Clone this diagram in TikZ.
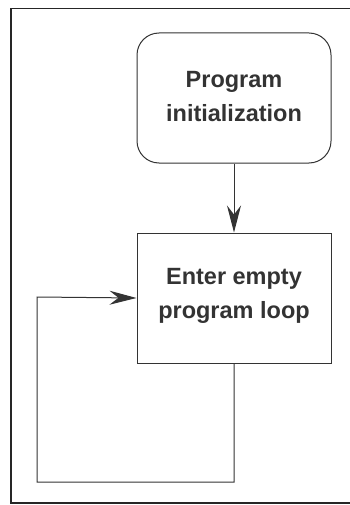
\documentclass[tikz,border=0pt]{standalone}
\usepackage{fontspec}
\setmainfont{Liberation Sans}
\usetikzlibrary{arrows.meta}
\begin{document}
\begin{tikzpicture}[x=1pt,y=-1pt,
  every node/.style={font=\fontsize{23.5}{34}\selectfont\bfseries, text=black!80, align=center},
  flowline/.style={draw=black!80, line width=1pt},
  tip/.style={-{Stealth[length=27pt,width=14pt,inset=9pt]}},
  startbox/.style={flowline, rounded corners=22pt, minimum width=194pt, minimum height=130pt},
  stepbox/.style={flowline, minimum width=194pt, minimum height=130pt}]
  \useasboundingbox (0,0) rectangle (350,505);
  % outer frame, open past the right edge
  \draw[black!85, line width=1.8pt] (358,8.5) -- (11,8.5) -- (11,503) -- (358,503);
  % blocks
  \node[startbox, text depth=4pt] (init) at (234,98) {Program\\initialization};
  \node[stepbox, text depth=10pt] (loop) at (234,298) {Enter empty\\program loop};
  \coordinate (down) at (234,482);
  \coordinate (corner) at (37,482);
  \coordinate (back) at (37,297);
  % connectors
  \draw[flowline, tip] (init) -- (loop);
  \draw[flowline, tip] (loop.south) -- (down) -- (corner) -- (back) -- (loop.west);
\end{tikzpicture}
\end{document}
